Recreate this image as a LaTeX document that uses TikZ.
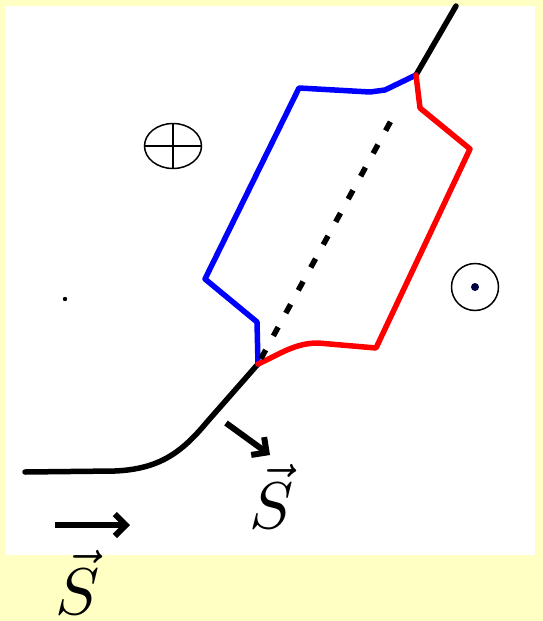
\documentclass[tikz,border=0pt]{standalone}
\usepackage{xcolor}
\usepackage{tikz}
\usetikzlibrary{arrows.meta,shapes.geometric}
\definecolor{paleyellow}{RGB}{255,255,196}

\begin{document}
\begin{tikzpicture}[x=1pt, y=-1pt, wire/.style={line width=5.5pt, line cap=round, line join=round}, flux/.style={line width=6pt, -{Straight Barb[length=11pt, width=22pt, line width=6pt]}}, sym/.style={draw, line width=1.5pt, inner sep=0pt}, lbl/.style={anchor=base, inner sep=0pt}]
\useasboundingbox (0,0) rectangle (543,621);
\fill[paleyellow] (0,0) rectangle (543,621);
\fill[white] (5,6) rectangle (535,555);
% ends of the loop
\coordinate (west) at (25,472);
\coordinate (a) at (258,364);
\coordinate (b) at (416,75);
\coordinate (north) at (456,6);
\draw[wire] (west) -- (115,471) .. controls (160,469) and (182,452) .. (207,422) -- (a);
\draw[wire] (b) -- (north);
\draw[wire, blue] (a) -- (257,322) -- (205,279) -- (299,88) -- (370,92) -- (385,90) -- (b);
\draw[wire, red] (a) .. controls (280,354) and (295,343) .. (318,343) -- (376,348) -- (470,149) -- (420,108) -- (b);
\draw[line width=5.5pt, dash pattern=on 10pt off 16pt, shorten <=6pt, shorten >=40pt] (a) -- (b);
% field symbols
\node[sym, ellipse, minimum width=57pt, minimum height=45pt] (into) at (173,146) {};
\draw[line width=1.5pt] (into.north) -- (into.south) (into.west) -- (into.east);
\node[sym, circle, minimum size=47pt] (outof) at (475,287) {};
\fill[black!75!blue] (outof.center) circle (4pt);
\fill (65,299) circle (2.2pt);
% Poynting arrows
\coordinate (f1) at (55,525);
\coordinate (f2) at (130,525);
\coordinate (g1) at (226,423);
\coordinate (g2) at (270,455);
\draw[flux] (f1) -- (f2);
\draw[flux] (g1) -- (g2);
\node[lbl] (s1) at (272,528) {\scalebox{6.6}{$\vec{S}$}};
\node[lbl] (s2) at (78,614) {\scalebox{6.6}{$\vec{S}$}};
\end{tikzpicture}
\end{document}
